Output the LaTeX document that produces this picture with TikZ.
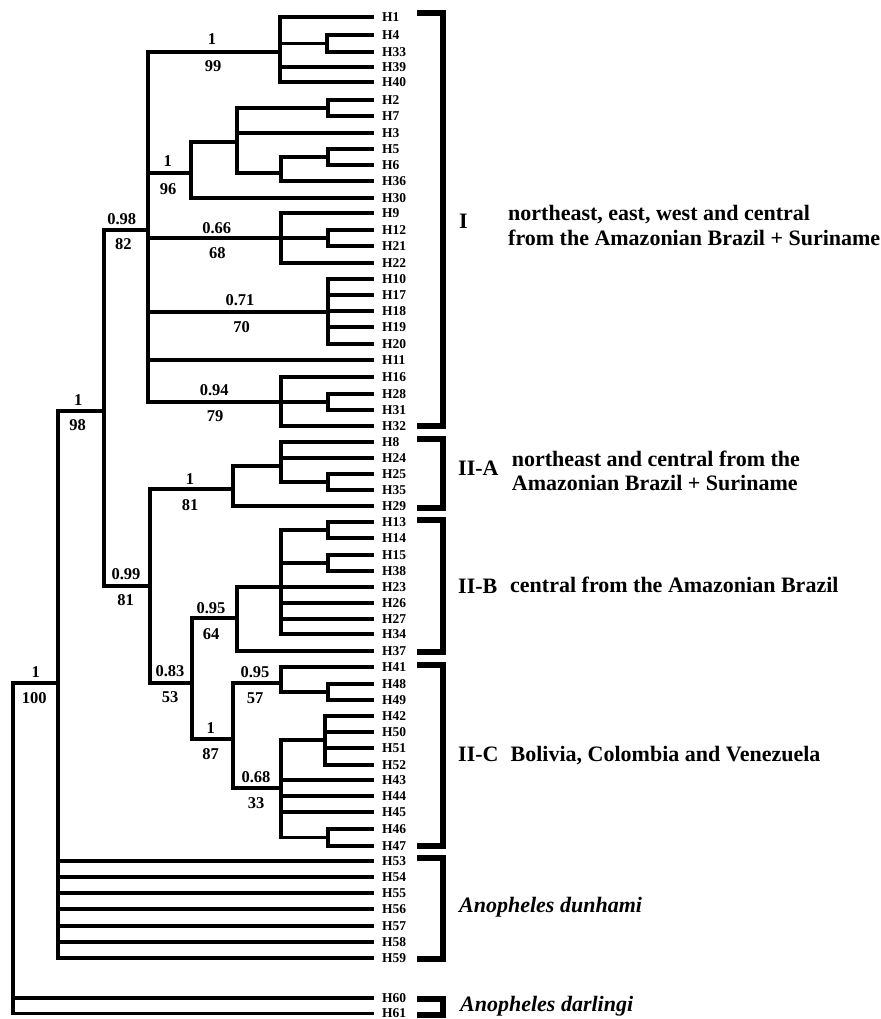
\documentclass[tikz,border=0pt]{standalone}
\usepackage{fontspec}
\setmainfont{Liberation Serif}
\begin{document}
\begin{tikzpicture}[x=1pt,y=-1pt,
  tr/.style={line width=3.7pt, line cap=rect, line join=miter},
  brk/.style={line width=5.5pt, line join=miter},
  leaf/.style={anchor=west, inner xsep=10pt, inner ysep=0pt, outer sep=0pt, text height=8.9pt, text depth=0pt, font=\fontsize{13.5pt}{15pt}\selectfont\bfseries},
  sup/.style={anchor=center, inner sep=0pt, text height=11.2pt, text depth=0pt, font=\fontsize{16.5pt}{18pt}\selectfont\bfseries},
  grp/.style={anchor=base west, inner sep=0pt, font=\fontsize{22pt}{24pt}\selectfont\bfseries},
]
\useasboundingbox (0,0) rectangle (880,1019);

% leaves
\foreach \n/\y in {1/17.3,4/35,33/52,39/67,40/82,2/100,7/116,3/133,5/149,6/165,36/181,30/198,
  9/213,12/230,21/246,22/263,10/279,17/295,18/311,19/327,20/344,11/360,16/377,28/394,31/410,32/426,
  8/442,24/458,25/474,35/490,29/506,13/522,14/538,15/555,38/571,23/587,26/603,27/619,34/634,37/651,
  41/667,48/684,49/700,42/716,50/732,51/748,52/765,43/780,44/796,45/812,46/829,47/846,
  53/861,54/877,55/893,56/909,57/926,58/942,59/958,60/998,61/1013.5}
  \node[leaf] (h\n) at (372,\y) {H\n};

% internal nodes
\coordinate (R) at (13,683);
\coordinate (A) at (58,683);
\coordinate (B) at (104,411);
\coordinate (C) at (148,230);
\coordinate (C1) at (280,52);
\coordinate (C1a) at (327,43.5);
\coordinate (C2) at (191,173);
\coordinate (C2a) at (237,142);
\coordinate (C2b) at (328,108);
\coordinate (C2c) at (281,173);
\coordinate (C2d) at (328,157);
\coordinate (C3) at (281,238);
\coordinate (C3a) at (328,238);
\coordinate (C4) at (328,312);
\coordinate (C5) at (281,402);
\coordinate (C5a) at (328,402);
\coordinate (D) at (150,586);
\coordinate (E) at (233,489);
\coordinate (E1) at (281,466);
\coordinate (E1a) at (328,482);
\coordinate (F) at (192,683);
\coordinate (G) at (237,618);
\coordinate (G1) at (281,587);
\coordinate (G1a) at (328,530);
\coordinate (G1b) at (328,563);
\coordinate (Hn) at (233,739);
\coordinate (H1n) at (281,683);
\coordinate (H1a) at (328,692);
\coordinate (H2n) at (281,788);
\coordinate (H2a) at (325,740);
\coordinate (H2b) at (328,837.5);

% edges
\draw[tr] (R) -- (A);
\foreach \t in {60,61} \draw[tr] (R) |- (h\t.west);
\draw[tr] (A) |- (B);
\foreach \t in {53,54,55,56,57,58,59} \draw[tr] (A) |- (h\t.west);
\draw[tr] (B) |- (C);
\draw[tr] (B) |- (D);
\foreach \t in {C1,C2,C3,C4,C5} \draw[tr] (C) |- (\t);
\draw[tr] (C) |- (h11.west);
\foreach \t in {1,39,40} \draw[tr] (C1) |- (h\t.west);
\draw[tr] (C1) |- (C1a);
\foreach \t in {4,33} \draw[tr] (C1a) |- (h\t.west);
\draw[tr] (C2) |- (C2a);
\draw[tr] (C2) |- (h30.west);
\draw[tr] (C2a) |- (C2b);
\draw[tr] (C2a) |- (h3.west);
\draw[tr] (C2a) |- (C2c);
\foreach \t in {2,7} \draw[tr] (C2b) |- (h\t.west);
\draw[tr] (C2c) |- (C2d);
\draw[tr] (C2c) |- (h36.west);
\foreach \t in {5,6} \draw[tr] (C2d) |- (h\t.west);
\foreach \t in {9,22} \draw[tr] (C3) |- (h\t.west);
\draw[tr] (C3) -- (C3a);
\foreach \t in {12,21} \draw[tr] (C3a) |- (h\t.west);
\foreach \t in {10,17,18,19,20} \draw[tr] (C4) |- (h\t.west);
\foreach \t in {16,32} \draw[tr] (C5) |- (h\t.west);
\draw[tr] (C5) -- (C5a);
\foreach \t in {28,31} \draw[tr] (C5a) |- (h\t.west);
\draw[tr] (D) |- (E);
\draw[tr] (D) |- (F);
\draw[tr] (E) |- (E1);
\draw[tr] (E) |- (h29.west);
\foreach \t in {8,24} \draw[tr] (E1) |- (h\t.west);
\draw[tr] (E1) |- (E1a);
\foreach \t in {25,35} \draw[tr] (E1a) |- (h\t.west);
\draw[tr] (F) |- (G);
\draw[tr] (F) |- (Hn);
\draw[tr] (G) |- (G1);
\draw[tr] (G) |- (h37.west);
\draw[tr] (G1) |- (G1a);
\draw[tr] (G1) |- (G1b);
\foreach \t in {23,26,27,34} \draw[tr] (G1) |- (h\t.west);
\foreach \t in {13,14} \draw[tr] (G1a) |- (h\t.west);
\foreach \t in {15,38} \draw[tr] (G1b) |- (h\t.west);
\draw[tr] (Hn) |- (H1n);
\draw[tr] (Hn) |- (H2n);
\draw[tr] (H1n) |- (h41.west);
\draw[tr] (H1n) |- (H1a);
\foreach \t in {48,49} \draw[tr] (H1a) |- (h\t.west);
\draw[tr] (H2n) |- (H2a);
\draw[tr] (H2n) |- (H2b);
\foreach \t in {43,44,45} \draw[tr] (H2n) |- (h\t.west);
\foreach \t in {42,50,51,52} \draw[tr] (H2a) |- (h\t.west);
\foreach \t in {46,47} \draw[tr] (H2b) |- (h\t.west);

% support values
\node[sup] (s1a) at (212,39) {1};      \node[sup] (s1b) at (213,65.5) {99};
\node[sup] (s2a) at (167.7,161.3) {1}; \node[sup] (s2b) at (168,188.7) {96};
\node[sup] (s3a) at (121.7,218.5) {0.98}; \node[sup] (s3b) at (123.3,244) {82};
\node[sup] (s4a) at (216.7,228) {0.66}; \node[sup] (s4b) at (217.3,252.5) {68};
\node[sup] (s5a) at (240,300) {0.71};  \node[sup] (s5b) at (241.7,326.5) {70};
\node[sup] (s6a) at (214.3,390) {0.94}; \node[sup] (s6b) at (215,416) {79};
\node[sup] (s7a) at (78.3,399.5) {1};  \node[sup] (s7b) at (77.7,425) {98};
\node[sup] (s8a) at (190,479) {1};     \node[sup] (s8b) at (190,505) {81};
\node[sup] (s9a) at (126,574) {0.99};  \node[sup] (s9b) at (125.7,600) {81};
\node[sup] (s10a) at (211,608) {0.95}; \node[sup] (s10b) at (211,634) {64};
\node[sup] (s11a) at (170,671) {0.83}; \node[sup] (s11b) at (170,697) {53};
\node[sup] (s12a) at (35.7,672) {1};   \node[sup] (s12b) at (34.3,698) {100};
\node[sup] (s13a) at (255,672) {0.95}; \node[sup] (s13b) at (255,698) {57};
\node[sup] (s14a) at (210.7,728) {1};  \node[sup] (s14b) at (210.7,754) {87};
\node[sup] (s15a) at (256,776.7) {0.68}; \node[sup] (s15b) at (256,803) {33};

% brackets
\draw[brk] (417,13) -- (443,13) -- (443,426) -- (417,426);
\draw[brk] (417,439) -- (443,439) -- (443,508) -- (417,508);
\draw[brk] (417,520) -- (443,520) -- (443,652) -- (417,652);
\draw[brk] (417,665) -- (443,665) -- (443,846) -- (417,846);
\draw[brk] (417,858) -- (443,858) -- (443,959) -- (417,959);
\draw[brk] (417,999) -- (443,999) -- (443,1015) -- (417,1015);

% group labels
\node[grp] (gI) at (459,228) {I};
\node[grp] (tI1) at (508,220) {northeast, east, west and central};
\node[grp] (tI2) at (508,245) {from the Amazonian Brazil + Suriname};
\node[grp] (gIIA) at (458,475) {II-A};
\node[grp] (tA1) at (511.7,466.7) {northeast and central from the};
\node[grp] (tA2) at (511.7,490.7) {Amazonian Brazil + Suriname};
\node[grp] (gIIB) at (458,593) {II-B};
\node[grp] (tB) at (510,592.7) {central from the Amazonian Brazil};
\node[grp] (gIIC) at (458,761.7) {II-C};
\node[grp] (tC) at (510.5,761) {Bolivia, Colombia and Venezuela};
\node[grp,font=\fontsize{22pt}{24pt}\selectfont\bfseries\itshape] (tdun) at (459,912.7) {Anopheles dunhami};
\node[grp,font=\fontsize{22pt}{24pt}\selectfont\bfseries\itshape] (tdar) at (460,1011.5) {Anopheles darlingi};
\end{tikzpicture}
\end{document}
